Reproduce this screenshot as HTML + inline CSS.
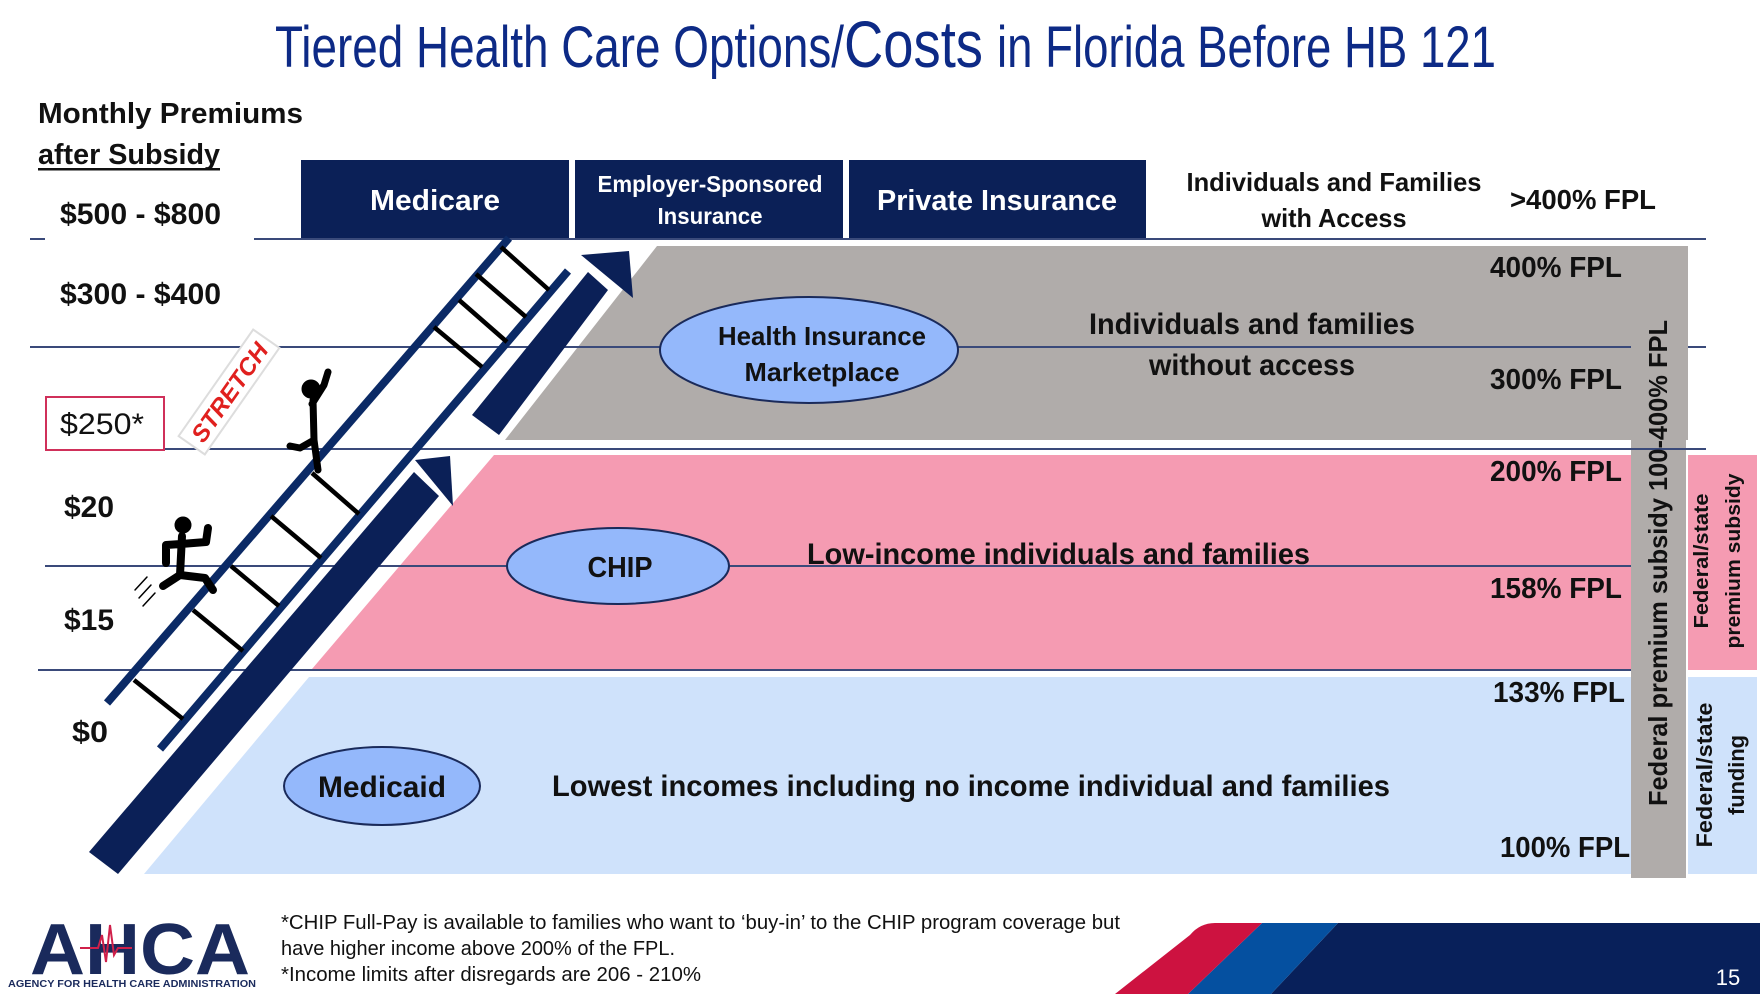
<!DOCTYPE html>
<html><head><meta charset="utf-8"><style>
html,body{margin:0;padding:0;background:#fff;}
svg{display:block;}
text{font-family:"Liberation Sans",sans-serif;}
.b{font-weight:bold;fill:#111;}
</style></head><body>
<svg width="1760" height="994" viewBox="0 0 1760 994" xmlns="http://www.w3.org/2000/svg">
<!-- Title -->
<text y="67" fill="#0d2a86" font-size="58" textLength="569" lengthAdjust="spacingAndGlyphs" x="275">Tiered Health Care Options/</text>
<text y="67" fill="#0d2a86" font-size="66" textLength="139" lengthAdjust="spacingAndGlyphs" x="844">Costs</text>
<text y="67" fill="#0d2a86" font-size="58" textLength="499" lengthAdjust="spacingAndGlyphs" x="997">in Florida Before HB 121</text>

<!-- left header -->
<text class="b" x="38" y="123" font-size="29" textLength="265" lengthAdjust="spacingAndGlyphs">Monthly Premiums</text>
<text class="b" x="38" y="164" font-size="29" textLength="182" lengthAdjust="spacingAndGlyphs">after Subsidy</text>
<rect x="38" y="168" width="182" height="2.5" fill="#111"/>

<!-- bands -->
<polygon points="657,246 1688,246 1688,440 505,440" fill="#b0acaa"/>
<rect x="1631" y="440" width="55" height="438" fill="#b0acaa"/>
<polygon points="494,455 1631,455 1631,669 312,669" fill="#f59bb2"/>
<rect x="1688" y="455" width="69" height="215" fill="#f59bb2"/>
<polygon points="309,677 1631,677 1631,874 144,874" fill="#cfe2fb"/>
<rect x="1688" y="677" width="69" height="197" fill="#cfe2fb"/>

<!-- header boxes -->
<rect x="301" y="160" width="268" height="78" fill="#0b2057"/>
<rect x="575" y="160" width="268" height="78" fill="#0b2057"/>
<rect x="849" y="160" width="297" height="78" fill="#0b2057"/>
<text x="435" y="210" fill="#fff" font-size="29" font-weight="bold" text-anchor="middle" textLength="130" lengthAdjust="spacingAndGlyphs">Medicare</text>
<text x="710" y="192" fill="#fff" font-size="23" font-weight="bold" text-anchor="middle" textLength="225" lengthAdjust="spacingAndGlyphs">Employer-Sponsored</text>
<text x="710" y="224" fill="#fff" font-size="23" font-weight="bold" text-anchor="middle" textLength="105" lengthAdjust="spacingAndGlyphs">Insurance</text>
<text x="997" y="210" fill="#fff" font-size="29" font-weight="bold" text-anchor="middle" textLength="240" lengthAdjust="spacingAndGlyphs">Private Insurance</text>
<text class="b" x="1334" y="191" font-size="26" text-anchor="middle" textLength="295" lengthAdjust="spacingAndGlyphs">Individuals and Families</text>
<text class="b" x="1334" y="227" font-size="26" text-anchor="middle" textLength="145" lengthAdjust="spacingAndGlyphs">with Access</text>
<text class="b" x="1510" y="209" font-size="28" textLength="146" lengthAdjust="spacingAndGlyphs">&gt;400% FPL</text>

<!-- lines -->
<g stroke="#3a4a7a" stroke-width="2">
<line x1="254" y1="239" x2="1706" y2="239"/>
<line x1="30" y1="239" x2="45" y2="239"/>
<line x1="30" y1="347" x2="1631" y2="347"/>
<line x1="1688" y1="347" x2="1706" y2="347"/>
<line x1="45" y1="449" x2="1706" y2="449"/>
<line x1="45" y1="566" x2="1631" y2="566"/>
<line x1="38" y1="670" x2="1631" y2="670"/>
</g>

<!-- left labels -->
<text class="b" x="60" y="224" font-size="30" textLength="161" lengthAdjust="spacingAndGlyphs">$500 - $800</text>
<text class="b" x="60" y="304" font-size="30" textLength="161" lengthAdjust="spacingAndGlyphs">$300 - $400</text>
<rect x="46" y="397" width="118" height="53" fill="#fff" stroke="#d0305a" stroke-width="2"/>
<text x="60" y="434" font-size="30" fill="#111" textLength="84" lengthAdjust="spacingAndGlyphs">$250*</text>
<text class="b" x="64" y="517" font-size="30" textLength="50" lengthAdjust="spacingAndGlyphs">$20</text>
<text class="b" x="64" y="630" font-size="30" textLength="50" lengthAdjust="spacingAndGlyphs">$15</text>
<text class="b" x="72" y="742" font-size="30" textLength="36" lengthAdjust="spacingAndGlyphs">$0</text>

<!-- ellipses -->
<ellipse cx="809" cy="350" rx="149" ry="53" fill="#94b8fb" stroke="#1a2a5a" stroke-width="2"/>
<ellipse cx="618" cy="566" rx="111" ry="38" fill="#94b8fb" stroke="#1a2a5a" stroke-width="2"/>
<ellipse cx="382" cy="786" rx="98" ry="39" fill="#94b8fb" stroke="#1a2a5a" stroke-width="2"/>
<text class="b" x="822" y="345" font-size="26" text-anchor="middle" textLength="208" lengthAdjust="spacingAndGlyphs">Health Insurance</text>
<text class="b" x="822" y="381" font-size="26" text-anchor="middle" textLength="155" lengthAdjust="spacingAndGlyphs">Marketplace</text>
<text class="b" x="620" y="577" font-size="29" text-anchor="middle" textLength="65" lengthAdjust="spacingAndGlyphs">CHIP</text>
<text class="b" x="382" y="797" font-size="30" text-anchor="middle" textLength="128" lengthAdjust="spacingAndGlyphs">Medicaid</text>

<!-- band texts -->
<text class="b" x="1252" y="334" font-size="30" text-anchor="middle" textLength="326" lengthAdjust="spacingAndGlyphs">Individuals and families</text>
<text class="b" x="1252" y="375" font-size="30" text-anchor="middle" textLength="206" lengthAdjust="spacingAndGlyphs">without access</text>
<text class="b" x="807" y="564" font-size="30" textLength="503" lengthAdjust="spacingAndGlyphs">Low-income individuals and families</text>
<text class="b" x="552" y="796" font-size="30" textLength="838" lengthAdjust="spacingAndGlyphs">Lowest incomes including no income  individual and families</text>

<!-- FPL labels -->
<g class="b" font-size="29">
<text class="b" x="1490" y="277" textLength="132" lengthAdjust="spacingAndGlyphs">400% FPL</text>
<text class="b" x="1490" y="389" textLength="132" lengthAdjust="spacingAndGlyphs">300% FPL</text>
<text class="b" x="1490" y="481" textLength="132" lengthAdjust="spacingAndGlyphs">200% FPL</text>
<text class="b" x="1490" y="598" textLength="132" lengthAdjust="spacingAndGlyphs">158% FPL</text>
<text class="b" x="1493" y="702" textLength="132" lengthAdjust="spacingAndGlyphs">133% FPL</text>
<text class="b" x="1500" y="857" textLength="130" lengthAdjust="spacingAndGlyphs">100% FPL</text>
</g>
<text class="b" transform="translate(1667,563) rotate(-90)" font-size="26" text-anchor="middle" textLength="486" lengthAdjust="spacingAndGlyphs">Federal premium subsidy 100-400% FPL</text>
<text class="b" transform="translate(1708,561) rotate(-90)" font-size="20" text-anchor="middle" textLength="135" lengthAdjust="spacingAndGlyphs">Federal/state</text>
<text class="b" transform="translate(1740,561) rotate(-90)" font-size="20" text-anchor="middle" textLength="175" lengthAdjust="spacingAndGlyphs">premium subsidy</text>
<text class="b" transform="translate(1712,775) rotate(-90)" font-size="22" text-anchor="middle" textLength="145" lengthAdjust="spacingAndGlyphs">Federal/state</text>
<text class="b" transform="translate(1744,775) rotate(-90)" font-size="22" text-anchor="middle" textLength="80" lengthAdjust="spacingAndGlyphs">funding</text>

<!-- STRETCH -->
<g transform="translate(229,392) rotate(-55)">
<rect x="-65" y="-16" width="130" height="32" fill="#fff" stroke="#ddd" stroke-width="2"/>
<text x="0" y="9" font-size="24" font-weight="bold" font-style="italic" fill="#e0201e" text-anchor="middle" textLength="115" lengthAdjust="spacingAndGlyphs">STRETCH</text>
</g>

<!-- thick arrows -->
<g fill="#0b2057">
<polygon points="89,852 118,874 439,496 414,472"/>
<polygon points="415,460 450,456 453,506"/>
<polygon points="472,415 499,435 608,290 588,272"/>
<polygon points="581,255 629,251 633,298"/>
</g>
<!-- rails -->
<g stroke="#0b2a66" stroke-width="8">
<line x1="107" y1="703" x2="509" y2="238"/>
<line x1="160" y1="749" x2="568" y2="271"/>
</g>
<!-- rungs -->
<g stroke="#000" stroke-width="4.5">
<line x1="134" y1="680" x2="183" y2="719"/>
<line x1="193" y1="610" x2="243" y2="651"/>
<line x1="231" y1="566" x2="279" y2="606"/>
<line x1="271" y1="516" x2="321" y2="558"/>
<line x1="312" y1="473" x2="359" y2="514"/>
<line x1="434" y1="327" x2="482" y2="367"/>
<line x1="459" y1="300" x2="507" y2="342"/>
<line x1="476" y1="274" x2="526" y2="317"/>
<line x1="501" y1="247" x2="549" y2="290"/>
</g>

<!-- people -->
<g fill="#000" stroke="#000" stroke-linecap="round" stroke-linejoin="round">
<circle cx="183" cy="525" r="8"/>
<path d="M182 536 L180 575 L163 586 M180 575 L205 578 L213 590 M181 544 L166 545 L166 563 M181 544 L206 542 L208 528" fill="none" stroke-width="8"/>
<circle cx="311" cy="389" r="9"/>
<path d="M313 400 L314 440 L300 448 L290 446 M314 440 L318 470 M312 404 L324 385 L328 372" fill="none" stroke-width="7"/>
<path d="M135 590 L147 577 M139 598 L151 585 M143 606 L155 593" stroke-width="1.5" fill="none"/>
</g>

<!-- footer -->
<text x="140" y="974" font-size="72" font-weight="bold" fill="#1a2a5c" text-anchor="middle" textLength="220" lengthAdjust="spacingAndGlyphs">AHCA</text>
<path d="M80 948 L98 948 L102 935 L106 962 L110 925 L114 955 L118 948 L132 948" stroke="#d0204a" stroke-width="2" fill="none"/>
<text x="132" y="987" font-size="10" font-weight="bold" fill="#1a2a5c" text-anchor="middle" textLength="248" lengthAdjust="spacingAndGlyphs">AGENCY FOR HEALTH CARE ADMINISTRATION</text>
<g font-size="20" fill="#111">
<text x="281" y="929" textLength="839" lengthAdjust="spacingAndGlyphs">*CHIP Full-Pay is available to families who want to ‘buy-in’ to the CHIP program coverage but</text>
<text x="281" y="955" textLength="394" lengthAdjust="spacingAndGlyphs">have higher income above 200% of the FPL.</text>
<text x="281" y="981" textLength="420" lengthAdjust="spacingAndGlyphs">*Income limits after disregards are 206 - 210%</text>
</g>
<polygon points="1338,923 1760,923 1760,994 1271,994" fill="#08205a"/>
<polygon points="1262,923 1338,923 1271,994 1188,994" fill="#0550a0"/>
<path d="M1115,994 L1190,935 Q1200,923 1215,923 L1262,923 L1188,994 Z" fill="#cd1240"/>
<text x="1728" y="985" font-size="22" fill="#fff" text-anchor="middle">15</text>
</svg>
</body></html>
